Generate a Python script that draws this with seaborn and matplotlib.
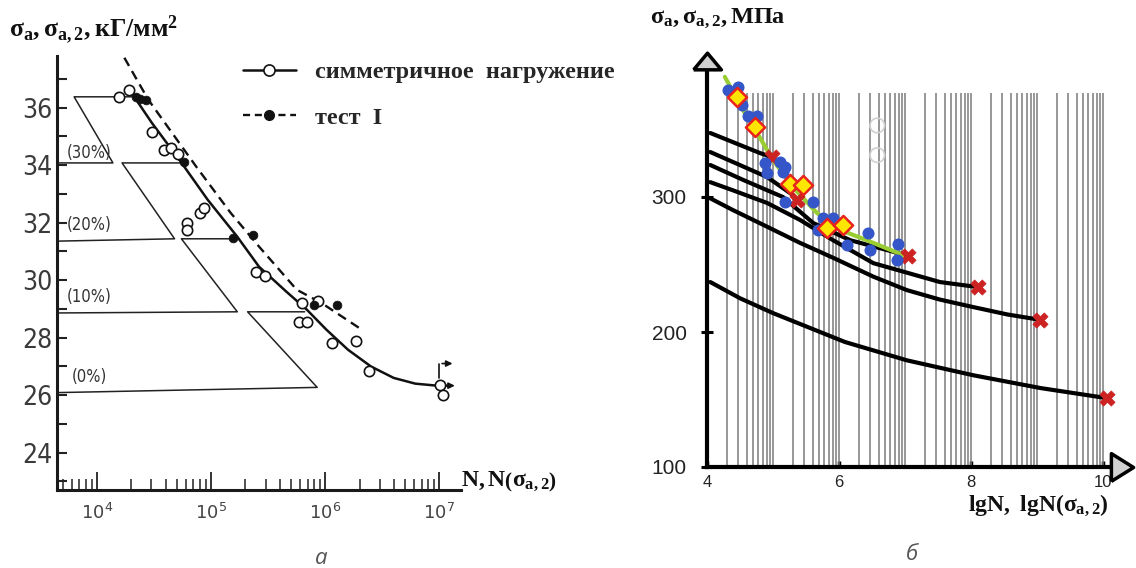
import numpy as np
import pandas as pd
import matplotlib
matplotlib.use("Agg")
import matplotlib.pyplot as plt
import seaborn as sns
from matplotlib.lines import Line2D

# ---------------- panel "а" data : log10(N) and stress, kG/mm^2 ----------------
sym_pts_lgN = [4.19, 4.28, 4.48, 4.59, 4.65, 4.71, 4.79, 4.79, 4.90, 4.94, 5.39, 5.47,
               5.80, 5.77, 5.84, 5.94, 6.06, 6.27, 6.38, 7.01, 7.03]
sym_pts_sigma = [36.38, 36.6, 35.14, 34.54, 34.6, 34.4, 32.0, 31.75, 32.35, 32.5, 30.27, 30.16,
                 29.22, 28.56, 28.56, 29.26, 27.83, 27.87, 26.83, 26.37, 26.02]
test_pts_lgN = [4.34, 4.38, 4.43, 4.76, 5.19, 5.37, 5.90, 6.10]
test_pts_sigma = [36.38, 36.32, 36.28, 34.12, 31.47, 31.58, 29.15, 29.15]
sym_curve_lgN = [4.32, 4.48, 4.74, 4.97, 5.23, 5.42, 5.66, 5.84, 6.01, 6.20, 6.40, 6.60, 6.79, 6.98, 7.10]
sym_curve_sigma = [36.42, 35.48, 34.09, 32.8, 31.51, 30.47, 29.6, 28.97, 28.28, 27.58, 27.0, 26.6, 26.4, 26.33, 26.33]
test_curve_lgN = [4.24, 4.45, 4.87, 5.17, 5.42, 5.75, 5.97, 6.32]
test_curve_sigma = [37.74, 36.28, 33.95, 32.35, 31.17, 29.67, 29.2, 28.28]
pct_paths_lgN = [[3.67, 4.14, 3.80, 4.32],
                 [3.67, 4.68, 4.22, 4.74],
                 [3.67, 5.23, 4.74, 5.23],
                 [3.67, 5.93, 5.32, 5.82]]
pct_paths_sigma = [[34.08, 34.08, 36.38, 36.38],
                   [31.36, 31.44, 34.08, 34.08],
                   [28.86, 28.9, 31.44, 31.44],
                   [26.09, 26.27, 28.9, 28.9]]
pct_labels = ["(30%)", "(20%)", "(10%)", "(0%)"]
pct_label_sigma = [34.43, 31.93, 29.43, 26.64]
a_yticks = [24, 26, 28, 30, 32, 34, 36]
a_xdecades = [4, 5, 6, 7]
legend_labels = ["симметричное  нагружение", "тест  I"]

# ---------------- panel "б" data : lgN and stress, MPa ----------------
curve1_lgN = [4.05, 4.39, 4.80, 4.98]
curve1_sigma = [347.4, 340.7, 332.6, 329.6]
curve2_lgN = [4.05, 4.39, 4.91, 5.30, 5.36]
curve2_sigma = [333.3, 326.0, 314.8, 301.5, 297.8]
curve3_lgN = [4.05, 4.55, 5.15, 5.61, 6.17, 6.97, 7.05]
curve3_sigma = [323.7, 312.6, 300.0, 280.7, 268.0, 257.5, 256.0]
curve4_lgN = [4.05, 4.39, 4.91, 5.41, 5.91, 6.52, 7.53, 8.10]
curve4_sigma = [311.0, 305.0, 295.6, 283.0, 268.0, 251.0, 237.0, 233.3]
curve5_lgN = [4.05, 4.39, 4.91, 5.41, 5.91, 6.52, 7.03, 7.53, 8.03, 8.55, 9.05]
curve5_sigma = [299.0, 290.4, 278.0, 266.0, 255.0, 241.0, 231.0, 224.0, 218.5, 213.0, 209.0]
curve6_lgN = [4.05, 4.50, 5.00, 6.09, 7.03, 8.03, 9.05, 10.06]
curve6_sigma = [237.0, 225.0, 214.0, 192.6, 179.0, 168.0, 158.5, 151.0]
green_lgN = [4.27, 4.55, 4.76, 5.00, 5.30, 5.67, 6.02, 6.42, 6.97]
green_sigma = [389.0, 364.0, 347.4, 327.4, 307.4, 288.0, 275.6, 268.0, 257.0]
blue_lgN = [4.32, 4.47, 4.53, 4.62, 4.75, 4.88, 4.91, 5.11, 5.18, 5.15, 5.18, 5.61, 5.76,
            5.68, 5.91, 6.12, 6.44, 6.47, 6.90, 6.88]
blue_sigma = [379.0, 381.5, 368.0, 360.0, 360.0, 325.0, 317.8, 326.0, 322.0, 318.5, 296.5,
              296.5, 284.4, 275.6, 284.4, 264.4, 273.0, 260.7, 265.0, 253.0]
diam_lgN = [4.45, 4.73, 5.26, 5.45, 5.82, 6.06]
diam_sigma = [374.0, 351.8, 309.6, 308.9, 277.0, 279.0]
cross_lgN = [4.98, 5.36, 7.05, 8.10, 9.05, 10.06]
cross_sigma = [329.6, 297.8, 256.0, 233.3, 209.0, 151.0]
faint_lgN = [6.58, 6.58]
faint_sigma = [353.0, 331.0]
b_yticks = [100, 200, 300]
b_xticks = [4, 6, 8, 10]

# ---------------- style ----------------
sns.set_theme(style="white")
plt.rcParams["font.family"] = ["Liberation Sans", "DejaVu Sans"]
plt.rcParams["mathtext.fontset"] = "custom"
plt.rcParams["mathtext.rm"] = "Liberation Serif:bold"
plt.rcParams["mathtext.it"] = "Liberation Serif:bold"
plt.rcParams["mathtext.bf"] = "Liberation Serif:bold"
plt.rcParams["mathtext.sf"] = "Liberation Serif:bold"

W, H = 1136, 568
fig = plt.figure(figsize=(W / 100, H / 100), dpi=100)
fig.patch.set_facecolor("white")

narrow = ["Liberation Sans Narrow", "DejaVu Sans"]

# ======================= panel а =======================
axA = fig.add_axes([57 / W, 1 - 490 / H, 404 / W, 434 / H])
axA.set_facecolor("none")
axA.set_xscale("log")

def N(lg):
    return np.power(10.0, np.asarray(lg, dtype=float))

for xs, ys in zip(pct_paths_lgN, pct_paths_sigma):
    axA.plot(N(xs), ys, color="#222222", lw=1.1, zorder=2)
for lab, yv in zip(pct_labels, pct_label_sigma):
    axA.text(N(3.93), yv, lab, ha="center", va="center", fontsize=12,
             family=narrow, stretch="condensed", color="#333333")

sym_df = pd.DataFrame({"N": N(sym_curve_lgN), "s": sym_curve_sigma})
test_df = pd.DataFrame({"N": N(test_curve_lgN), "s": test_curve_sigma})
sns.lineplot(data=sym_df, x="N", y="s", sort=False, estimator=None, color="#111111",
             lw=1.8, ax=axA, zorder=3)
sns.lineplot(data=test_df, x="N", y="s", sort=False, estimator=None, color="#111111",
             lw=1.7, ax=axA, zorder=3, linestyle=(0, (4, 2.5)))
sns.scatterplot(x=N(sym_pts_lgN), y=sym_pts_sigma, ax=axA, marker="o", s=55,
                facecolor="white", edgecolor="#111111", linewidth=1.2, zorder=4)
sns.scatterplot(x=N(test_pts_lgN), y=test_pts_sigma, ax=axA, marker="o", s=40,
                color="#111111", edgecolor="#111111", zorder=5)

axA.plot(N([7.0, 7.0]), [26.6, 27.1], color="#111111", lw=1.2)
axA.annotate("", xy=(N(7.14), 27.1), xytext=(N(7.0), 27.1),
             arrowprops=dict(arrowstyle="-|>", color="#111111", lw=1.2, mutation_scale=9))
axA.annotate("", xy=(N(7.16), 26.33), xytext=(N(7.06), 26.33),
             arrowprops=dict(arrowstyle="-|>", color="#111111", lw=1.2, mutation_scale=9))

axA.set_xlim(N(3.65), N(7.19))
axA.set_ylim(22.7, 37.8)
for sp in ["top", "right"]:
    axA.spines[sp].set_visible(False)
for sp in ["left", "bottom"]:
    axA.spines[sp].set_color("#1a1a1a")
    axA.spines[sp].set_linewidth(2.2)
axA.set_yticks(a_yticks)
axA.set_yticklabels([str(v) for v in a_yticks], family=narrow, stretch="condensed",
                    fontsize=19, color="#3a3a3a")
axA.set_yticks(list(range(23, 38)), minor=True)
axA.tick_params(axis="y", which="both", direction="in", length=7, width=1.5,
                color="#222222", pad=3, left=True)
axA.set_xticks(N(a_xdecades))
axA.set_xticklabels([rf"$10^{{{d}}}$" for d in a_xdecades], fontsize=13, color="#444444")
for t in axA.get_xticklabels():
    t.set_math_fontfamily("dejavusans")
axA.tick_params(axis="x", which="major", direction="in", length=13, width=1.3,
                color="#222222", pad=9, bottom=True)
axA.tick_params(axis="x", which="minor", direction="in", length=8, width=1.1,
                color="#222222", bottom=True)
axA.set_xlabel("")
axA.set_ylabel("")

handles = [Line2D([], [], color="#111111", lw=1.8, marker="o", markersize=8,
                  markerfacecolor="white", markeredgecolor="#111111", markeredgewidth=1.2),
           Line2D([], [], color="#111111", lw=1.7, linestyle=(0, (3, 2)), marker="o",
                  markersize=7, markerfacecolor="#111111", markeredgecolor="#111111")]
axA.legend(handles, legend_labels, loc="upper left",
           bbox_to_anchor=(243 / W, 1 - 61 / H), bbox_transform=fig.transFigure,
           frameon=False, prop=dict(family=["Liberation Serif"], weight="bold", size=17.5),
           handlelength=2.18, handletextpad=0.78, labelspacing=0.98, borderpad=0,
           borderaxespad=0)

fig.text(9 / W, 1 - 13 / H, r"$\sigma_{\mathrm{a}},\sigma_{\mathrm{a,2}},\mathrm{кГ/мм}^{2}$",
         ha="left", va="top", fontsize=18.5, color="#111111")
fig.text(461 / W, 1 - 482 / H, r"$\mathrm{N,N}\left(\sigma_{\mathrm{a,2}}\right)$",
         ha="left", va="center", fontsize=17, color="#111111")
fig.text(321 / W, 1 - 558 / H, "а", ha="center", va="center", fontsize=16,
         family=["Open Sans", "DejaVu Sans"], style="italic", color="#555555")

# ======================= panel б =======================
axB = fig.add_axes([707 / W, 1 - 467 / H, 429 / W, 418.5 / H])
axB.set_facecolor("none")
axB.set_xlim(4, 10.5)
axB.set_ylim(100, 410)

grid_x = [d + np.log10(k) for d in range(4, 10) for k in range(2, 11)]
axB.vlines(grid_x, 100, 377, colors="#7a7a7a", lw=1.1, zorder=1)

for xs, ys in [(curve1_lgN, curve1_sigma), (curve2_lgN, curve2_sigma),
               (curve3_lgN, curve3_sigma), (curve4_lgN, curve4_sigma),
               (curve5_lgN, curve5_sigma), (curve6_lgN, curve6_sigma)]:
    sns.lineplot(x=xs, y=ys, sort=False, estimator=None, color="black", lw=3.0,
                 ax=axB, zorder=2)
sns.lineplot(x=green_lgN, y=green_sigma, sort=False, estimator=None, color="#9acd32",
             lw=3.0, ax=axB, zorder=3)
sns.scatterplot(x=cross_lgN, y=cross_sigma, ax=axB, marker="X", s=120, color="#cc2222",
                edgecolor="#cc2222", linewidth=0.5, zorder=3.5)
sns.scatterplot(x=blue_lgN, y=blue_sigma, ax=axB, marker="o", s=75, color="#3556c8",
                edgecolor="#3556c8", linewidth=0, zorder=4)
sns.scatterplot(x=diam_lgN, y=diam_sigma, ax=axB, marker="D", s=95, color="#ffe600",
                edgecolor="#e8221c", linewidth=1.8, zorder=5)
sns.scatterplot(x=faint_lgN, y=faint_sigma, ax=axB, marker="o", s=110, color="none",
                edgecolor="#d0d0d0", linewidth=1.2, zorder=1.5)

for sp in ["top", "right"]:
    axB.spines[sp].set_visible(False)
for sp in ["left", "bottom"]:
    axB.spines[sp].set_color("black")
    axB.spines[sp].set_linewidth(3)
axB.spines["left"].set_bounds(100, 394)
axB.spines["bottom"].set_bounds(4, 10.14)
up_tri = [(-1, -0.6), (1, -0.6), (0, 0.6), (-1, -0.6)]
right_tri = [(-0.8, -1), (-0.8, 1), (0.8, 0), (-0.8, -1)]
axB.plot([4.0], [400.4], marker=up_tri, markersize=20, markerfacecolor="#d0d0d0",
         markeredgecolor="black", markeredgewidth=2.5, clip_on=False, zorder=6)
axB.plot([10.29], [100], marker=right_tri, markersize=20, markerfacecolor="#d0d0d0",
         markeredgecolor="black", markeredgewidth=2.5, clip_on=False, zorder=6)

axB.set_yticks(b_yticks)
axB.set_yticklabels([str(v) for v in b_yticks], fontsize=15, color="#222222",
                    family=["Liberation Sans", "DejaVu Sans"])
axB.tick_params(axis="y", direction="inout", length=9, width=2.2, color="black",
                pad=10, left=True)
axB.set_xticks(b_xticks)
axB.set_xticklabels([str(v) for v in b_xticks], fontsize=12, color="#222222",
                    family=["Liberation Sans", "DejaVu Sans"])
axB.tick_params(axis="x", direction="in", length=4, width=2.5, color="black",
                pad=6, bottom=True)
axB.set_xlabel("")
axB.set_ylabel("")

fig.text(650 / W, 1 - 7 / H, r"$\sigma_{\mathrm{a}},\sigma_{\mathrm{a,2}},\mathrm{МПа}$",
         ha="left", va="top", fontsize=17.5, color="#111111")
fig.text(968 / W, 1 - 493 / H, r"$\mathrm{lgN,\ lgN(}\sigma_{\mathrm{a,2}}\mathrm{)}$",
         ha="left", va="top", fontsize=17, color="#111111")
fig.text(912 / W, 1 - 555 / H, "б", ha="center", va="center", fontsize=16,
         family=["Open Sans", "DejaVu Sans"], style="italic", color="#555555")

fig.savefig("out.png", dpi=100, facecolor="white")
